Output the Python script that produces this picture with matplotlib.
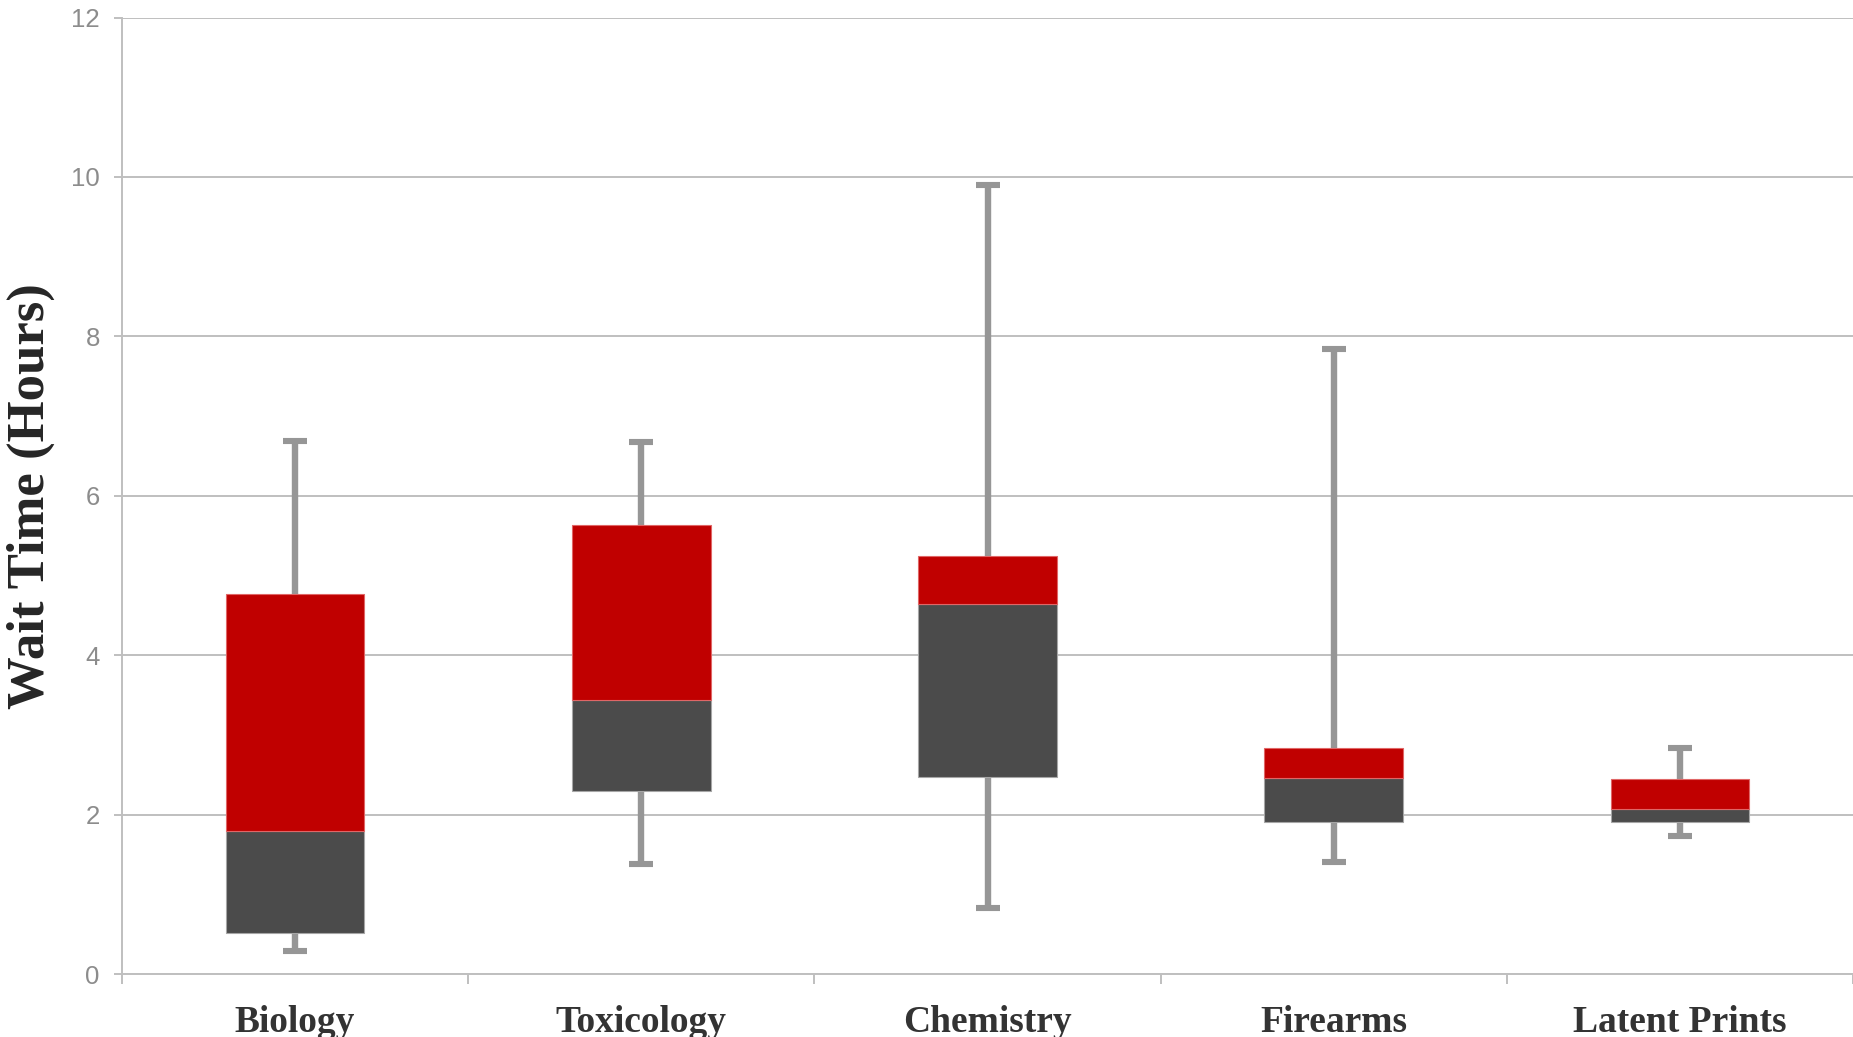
import matplotlib.pyplot as plt
import numpy as np

categories = ["Biology", "Toxicology", "Chemistry", "Firearms", "Latent Prints"]
whisker_low = [0.29, 1.38, 0.83, 1.41, 1.73]
quartile_1 = [0.52, 2.30, 2.47, 1.91, 1.91]
median = [1.80, 3.44, 4.64, 2.46, 2.07]
quartile_3 = [4.77, 5.63, 5.24, 2.83, 2.45]
whisker_high = [6.69, 6.67, 9.90, 7.84, 2.84]
y_ticks = [0, 2, 4, 6, 8, 10, 12]

grid_color = "#BFBFBF"
fig = plt.figure(figsize=(18.53, 10.37), dpi=100)
ax = fig.add_axes([122 / 1853, 63 / 1037, 1 - 122 / 1853, (974 - 17.5) / 1037])

x = np.arange(len(categories))
q1 = np.array(quartile_1)
med = np.array(median)
q3 = np.array(quartile_3)
lo = np.array(whisker_low)
hi = np.array(whisker_high)

ax.errorbar(x, med, yerr=[med - lo, hi - med], fmt="none", ecolor="#969696",
            elinewidth=4.6, capsize=8.5, capthick=4.4, zorder=2)
ax.bar(x, med - q1, bottom=q1, width=0.4, color="#4B4B4B",
       edgecolor="#A6A6A6", linewidth=0.8, zorder=3)
ax.bar(x, q3 - med, bottom=med, width=0.4, color="#C00000",
       edgecolor="#E06666", linewidth=0.8, zorder=3)

ax.set_ylim(0, 12)
ax.set_xlim(-0.5, 4.488)
ax.set_yticks(y_ticks)
ax.set_yticklabels([str(v) for v in y_ticks], fontsize=18.5, color="#8C8C8C",
                   family="Liberation Sans")
ax.yaxis.grid(True, color=grid_color, linewidth=1.4, zorder=0)
ax.set_axisbelow(True)

ax.set_xticks(x)
ax.set_xticklabels(categories, fontsize=27, fontweight="bold", color="#333333",
                   family="Liberation Serif")
ax.set_xticks(np.arange(-0.5, len(categories), 1.0), minor=True)
ax.tick_params(axis="x", which="major", length=0, pad=22)
ax.tick_params(axis="x", which="minor", length=7, color=grid_color, width=1.4)
ax.tick_params(axis="y", length=6, color=grid_color, width=1.4, pad=10)

for side in ["top", "right"]:
    ax.spines[side].set_visible(False)
for side in ["left", "bottom"]:
    ax.spines[side].set_color(grid_color)
    ax.spines[side].set_linewidth(1.4)

ax.set_ylabel("Wait Time (Hours)", fontsize=38, fontweight="bold", color="#262626",
              family="Liberation Serif")
ax.yaxis.set_label_coords((55 - 122) / 1732, 0.5)

fig.savefig("out.png", dpi=100)
